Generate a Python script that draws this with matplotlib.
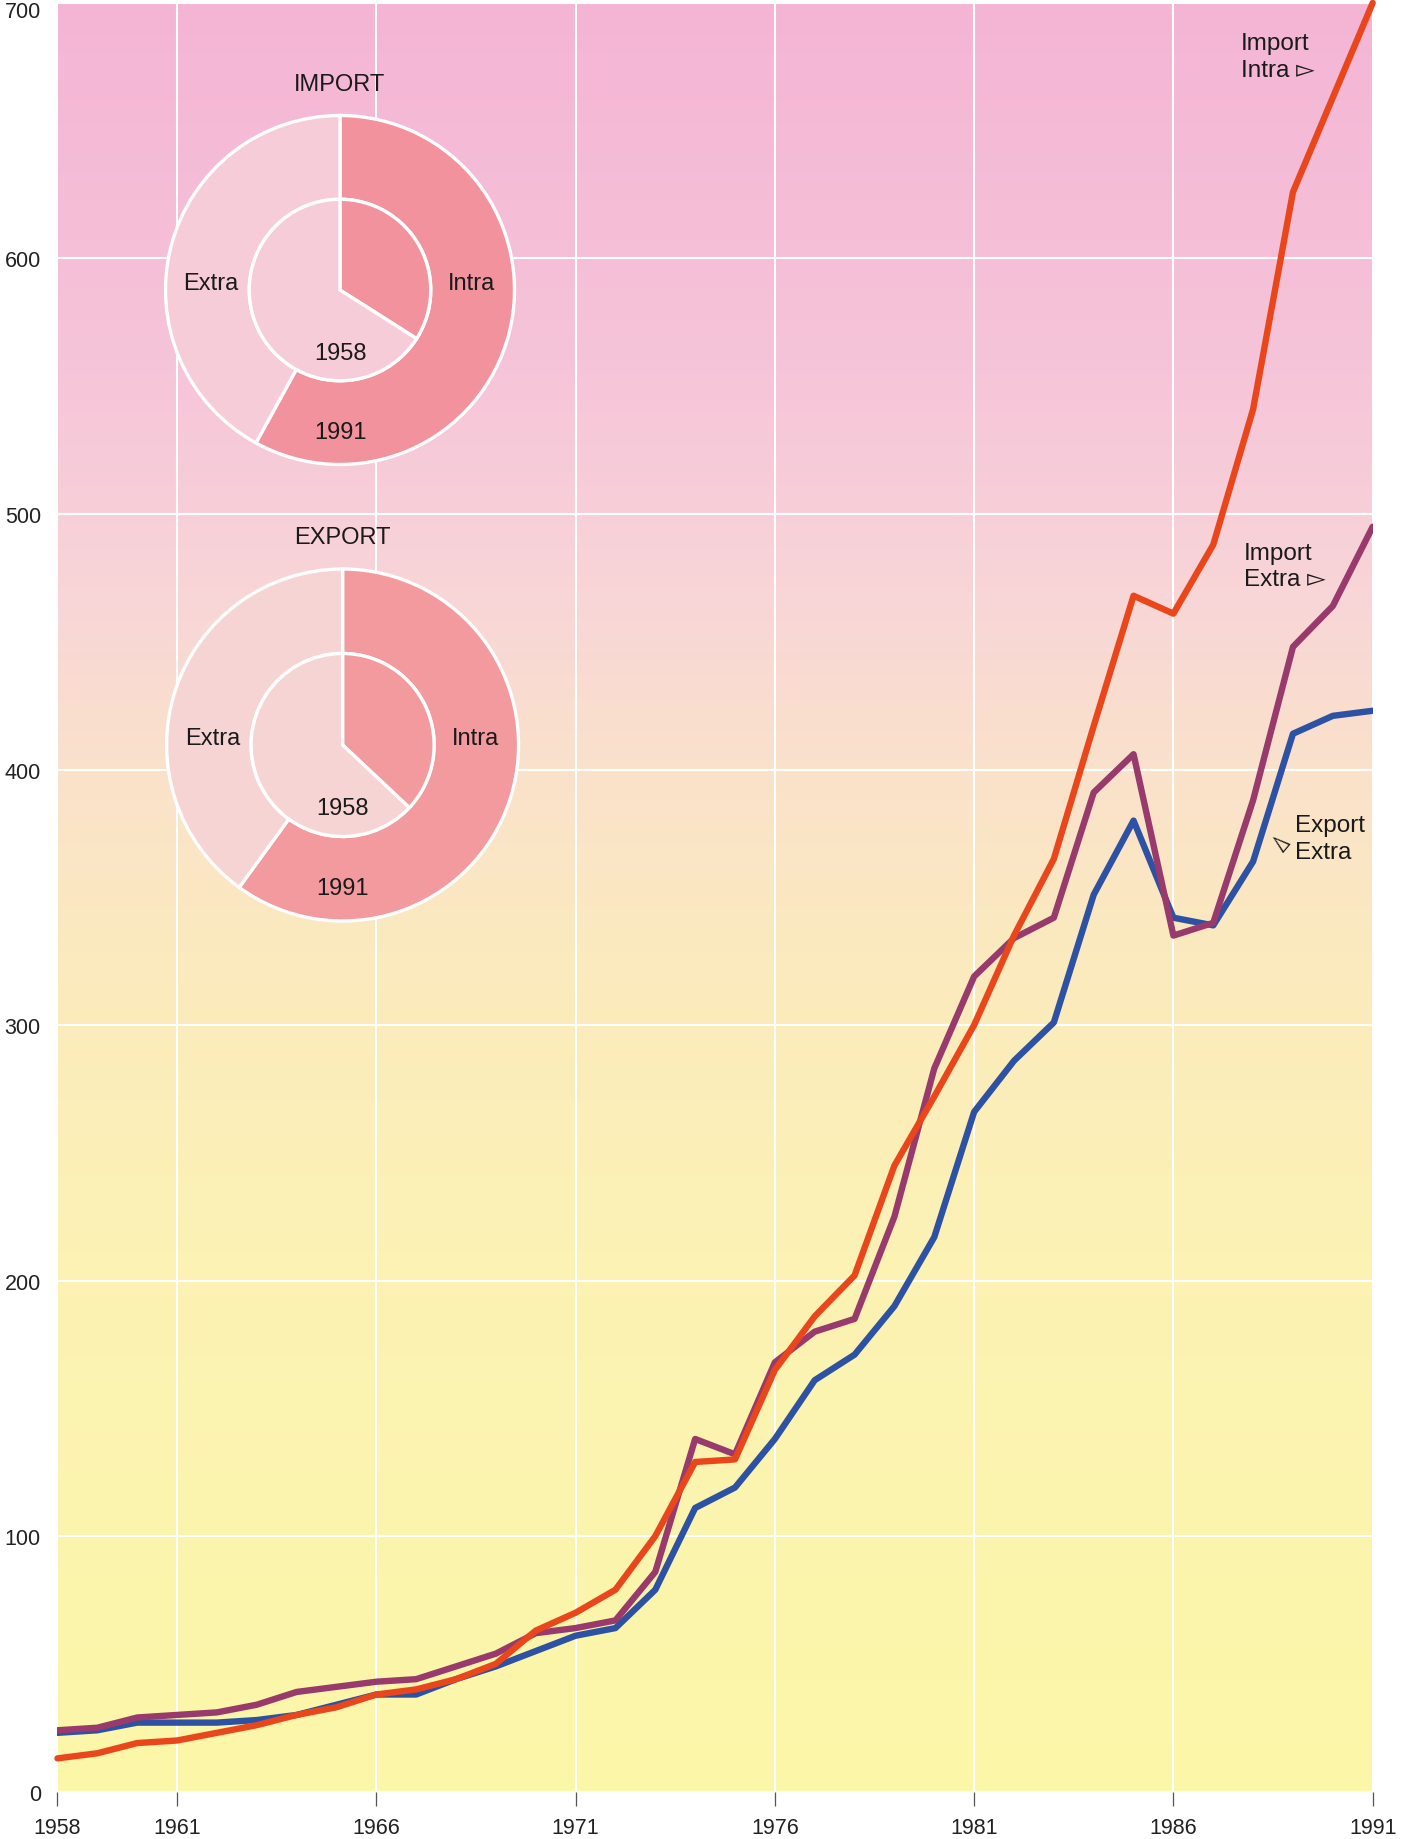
#!/usr/bin/env python3
"""
Import / export trend 1958-1991 with two donut insets (Intra vs Extra share)
"""
import matplotlib
matplotlib.use('Agg')
import matplotlib.pyplot as plt
from matplotlib.colors import LinearSegmentedColormap
from matplotlib.transforms import offset_copy
import numpy as np

plt.rcParams['font.family'] = ['Liberation Sans', 'DejaVu Sans']

# --- data -----------------------------------------------------------------
anos = list(range(1958, 1992))

import_intra = [13, 15, 19, 20, 23, 26, 30, 33, 38, 40, 44, 50, 63, 70, 79,
                100, 129, 130, 165, 186, 202, 245, 272, 300, 335, 365, 417,
                468, 461, 488, 541, 626, 663, 700]
import_extra = [24, 25, 29, 30, 31, 34, 39, 41, 43, 44, 49, 54, 62, 64, 67,
                86, 138, 132, 168, 180, 185, 225, 283, 319, 334, 342, 391,
                406, 335, 340, 388, 448, 464, 495]
export_extra = [23, 24, 27, 27, 27, 28, 30, 34, 38, 38, 44, 49, 55, 61, 64,
                79, 111, 119, 138, 161, 171, 190, 217, 266, 286, 301, 351,
                380, 342, 339, 364, 414, 421, 423]

x_ticks = [1958, 1961, 1966, 1971, 1976, 1981, 1986, 1991]
y_ticks = [0, 100, 200, 300, 400, 500, 600, 700]

# donut shares: (Intra, Extra) in percent
import_1958 = [34, 66]
import_1991 = [58, 42]
export_1958 = [37, 63]
export_1991 = [60, 40]

W, H = 1416, 1840


def fundo_gradiente(ax):
    """pink at the top fading to pale yellow at the bottom"""
    cmap = LinearSegmentedColormap.from_list('fundo', [
        (0.00, '#fbf7a8'),
        (0.30, '#fbf2b4'),
        (0.47, '#fbeabe'),
        (0.58, '#fae1cc'),
        (0.68, '#f8d4d8'),
        (0.80, '#f6c4d8'),
        (1.00, '#f4b5d5'),
    ])
    grad = np.linspace(0, 1, 400).reshape(-1, 1)
    ax.imshow(grad, cmap=cmap, origin='lower', aspect='auto',
              extent=[1958, 1991, 0, 700], zorder=0)


def donut(fig, cx, cy, r, titulo, inner, outer, c_intra, c_extra):
    """cx, cy, r in pixels (cy from top)"""
    ax = fig.add_axes([(cx - r) / W, (H - cy - r) / H, 2 * r / W, 2 * r / H])
    borda = dict(edgecolor='white', linewidth=2.4)
    ax.pie(outer, radius=1.0, startangle=90, counterclock=False,
           colors=[c_intra, c_extra], wedgeprops=dict(width=0.48, **borda))
    ax.pie(inner, radius=0.52, startangle=90, counterclock=False,
           colors=[c_intra, c_extra], wedgeprops=borda)
    ax.set_xlim(-1.02, 1.02)
    ax.set_ylim(-1.02, 1.02)
    ax.set_aspect('equal')
    ax.axis('off')
    fs = 17
    ax.text(0, 1.18, titulo, ha='center', va='center', fontsize=fs,
            color='#1a1a1a', clip_on=False)
    ax.text(-0.74, 0.04, 'Extra', ha='center', va='center', fontsize=fs, color='#1a1a1a')
    ax.text(0.755, 0.04, 'Intra', ha='center', va='center', fontsize=fs, color='#1a1a1a')
    ax.text(0, -0.36, '1958', ha='center', va='center', fontsize=fs, color='#1a1a1a')
    ax.text(0, -0.815, '1991', ha='center', va='center', fontsize=fs, color='#1a1a1a')


def gerar_grafico():
    fig = plt.figure(figsize=(W / 100, H / 100), dpi=100)
    ax = fig.add_axes([0.0406, 0.02576, 0.9288, 0.9721])

    fundo_gradiente(ax)

    # lines
    estilo = dict(linewidth=4.6, solid_joinstyle='round', solid_capstyle='round')
    ax.plot(anos, import_intra, color='#ea461c', zorder=4, clip_on=False, **estilo)
    ax.plot(anos, import_extra, color='#993a6c', zorder=3, **estilo)
    ax.plot(anos, export_extra, color='#2d52a3', zorder=2, **estilo)

    ax.set_xlim(1958, 1991)
    ax.set_ylim(0, 700)
    ax.set_xticks(x_ticks)
    ax.set_yticks(y_ticks)
    ax.grid(True, color='white', linewidth=1.5, zorder=1)
    ax.set_axisbelow(True)
    for s in ax.spines.values():
        s.set_visible(False)
    ax.tick_params(axis='x', direction='out', length=10, width=0.9,
                   color='#555555', labelsize=15.5, pad=8, labelcolor='#222222')
    ax.tick_params(axis='y', length=0, labelsize=15.5, pad=12, labelcolor='#222222')

    # top label would be cut by the figure edge: nudge it down a little
    rotulos = ax.get_yticklabels()
    rotulos[-1].set_transform(offset_copy(rotulos[-1].get_transform(), fig=fig,
                                          y=-6, units='dots'))

    # annotations
    fs = 17.5
    ax.text(1987.70, 679.0, 'Import\nIntra \u25bb', ha='left', va='center',
            fontsize=fs, color='#1a1a1a', linespacing=1.25, zorder=5)
    ax.text(1987.76, 479.5, 'Import\nExtra \u25bb', ha='left', va='center',
            fontsize=fs, color='#1a1a1a', linespacing=1.25, zorder=5)
    ax.text(1989.06, 373.0, 'Export\nExtra', ha='left', va='center',
            fontsize=fs, color='#1a1a1a', linespacing=1.25, zorder=5)
    ax.text(1988.67, 372.3, '\u25bb', ha='center', va='center', rotation=140,
            fontsize=fs, color='#1a1a1a', zorder=5)

    # donut insets
    donut(fig, 340, 291, 178, 'IMPORT', import_1958, import_1991,
          '#f1929c', '#f5ccd8')
    donut(fig, 342.6, 746, 179.5, 'EXPORT', export_1958, export_1991,
          '#f29a9d', '#f6d4d3')

    fig.savefig('out.png', dpi=100)
    plt.close(fig)


if __name__ == '__main__':
    gerar_grafico()
